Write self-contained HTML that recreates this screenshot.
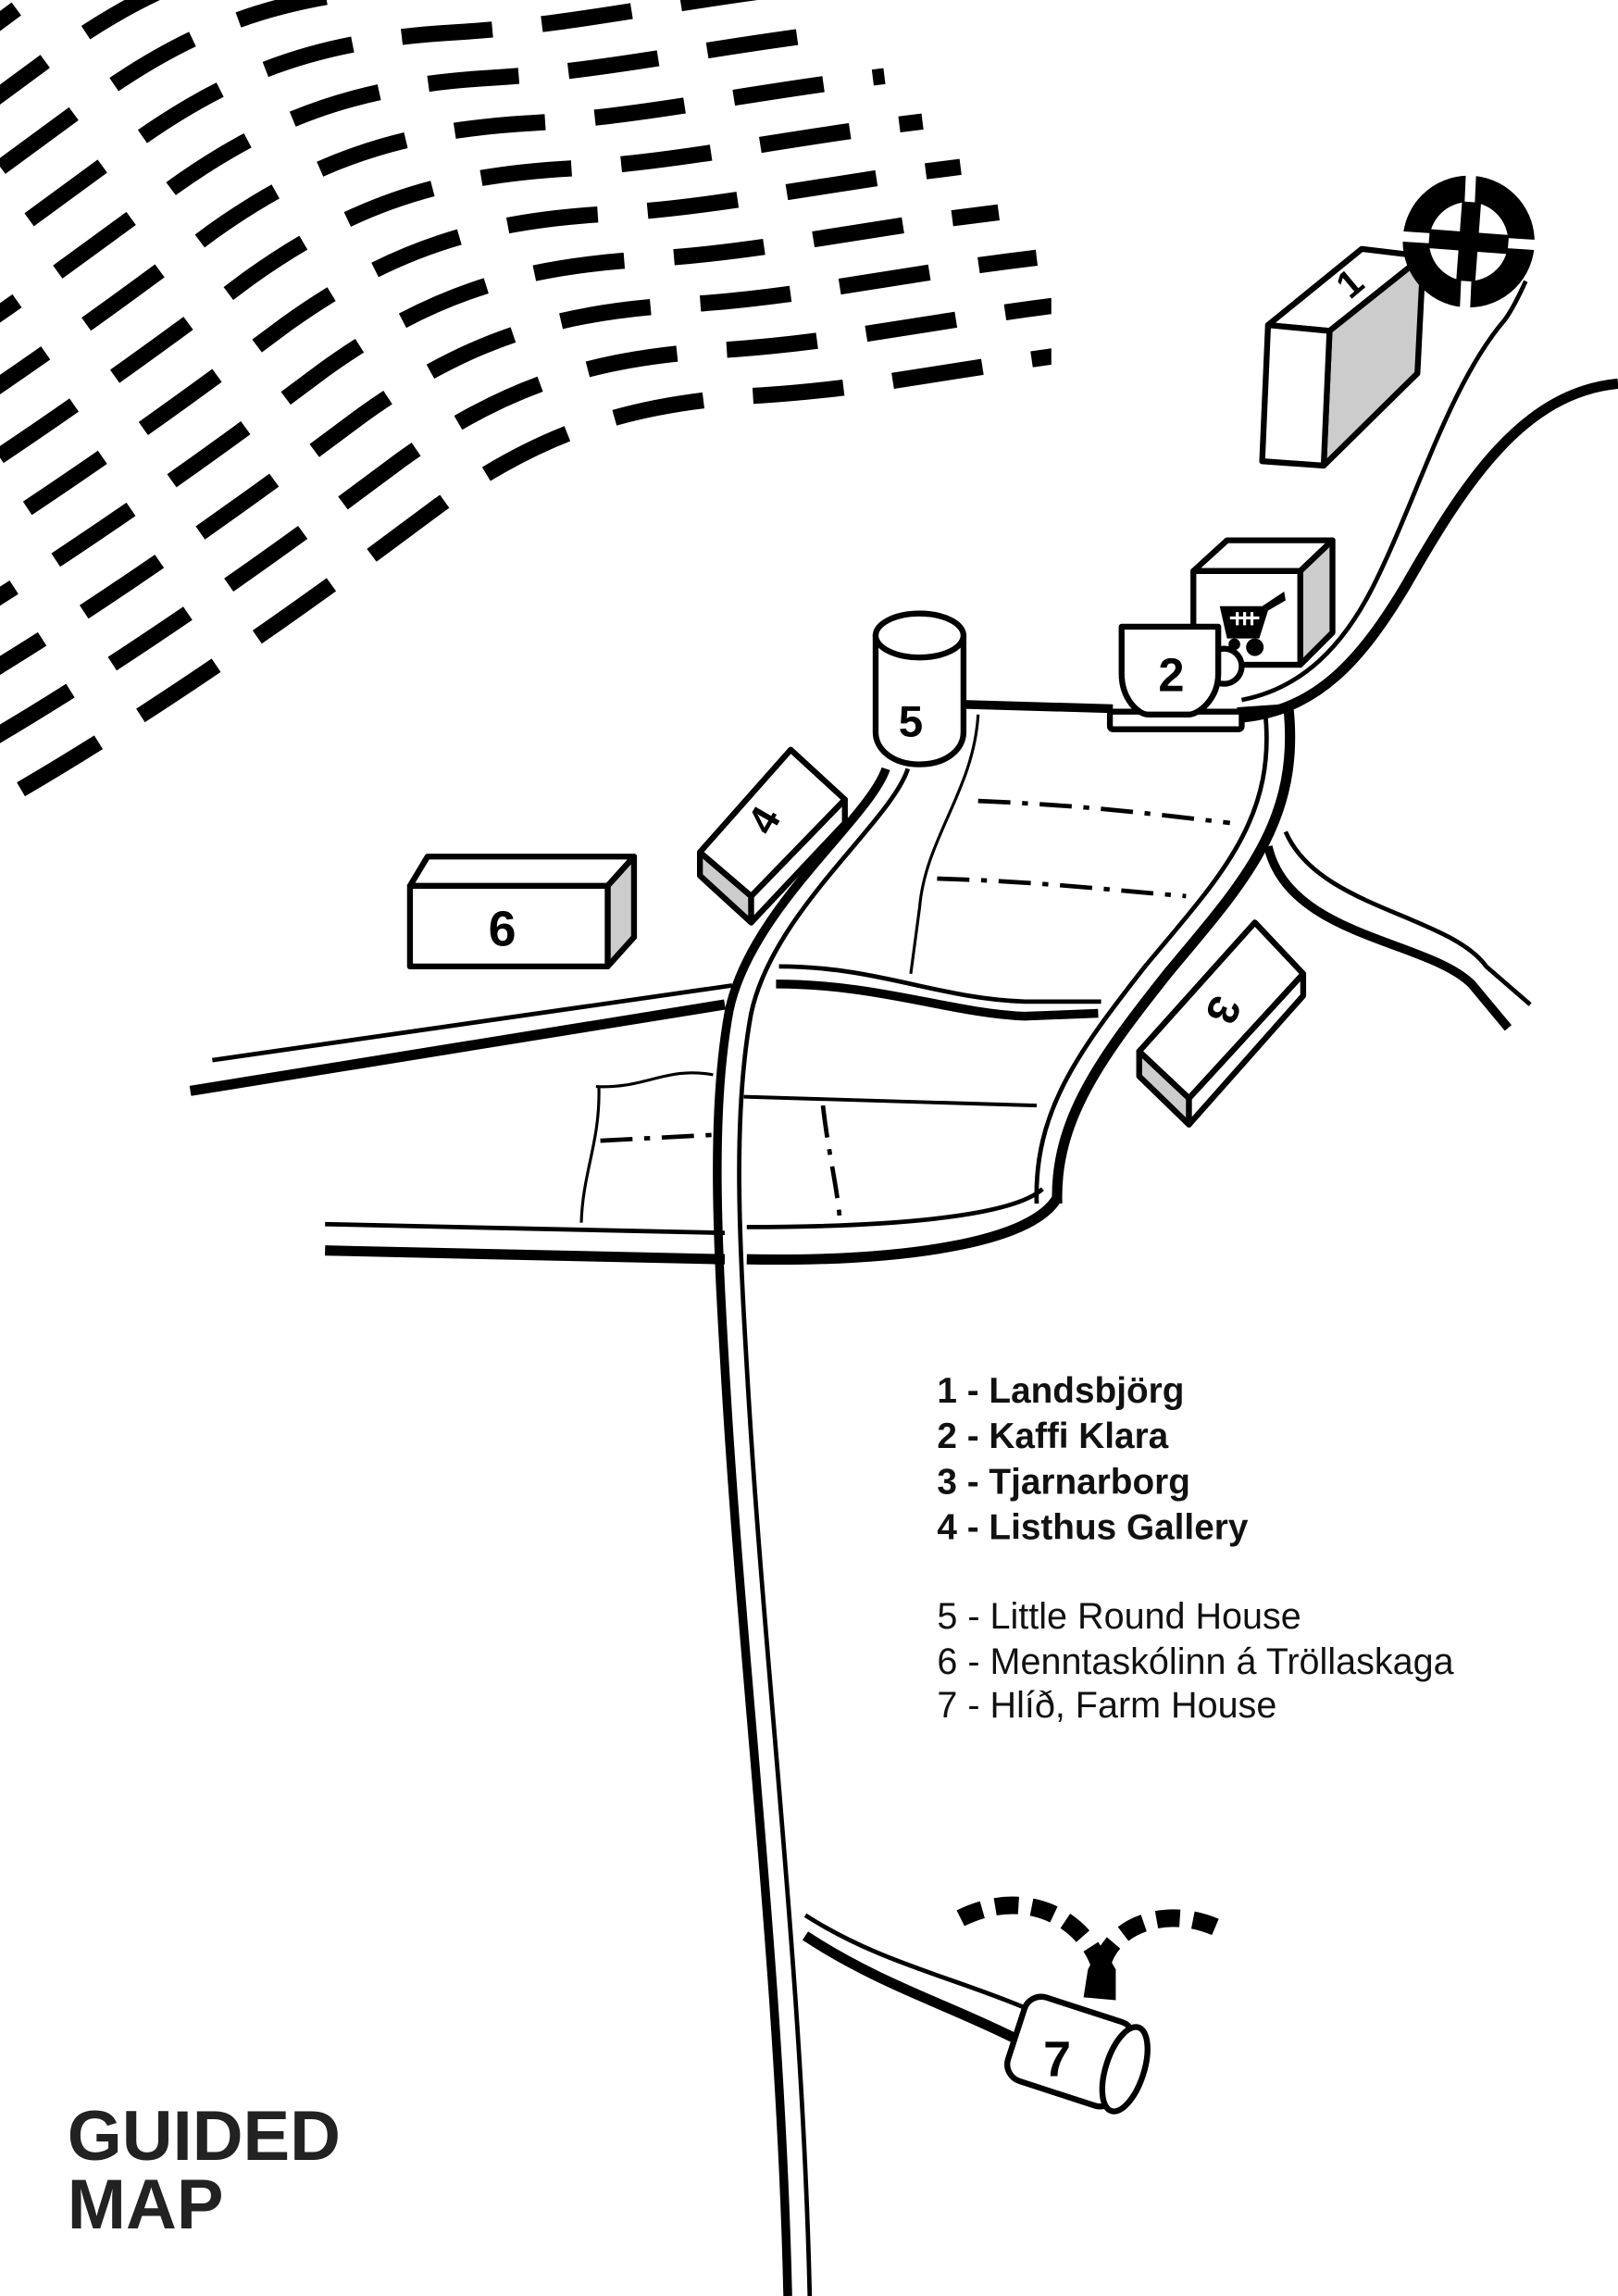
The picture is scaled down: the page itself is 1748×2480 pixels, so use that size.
<!DOCTYPE html>
<html><head><meta charset="utf-8"><style>
html,body{margin:0;padding:0;background:#fff;}
svg{display:block;}
text{font-family:"Liberation Sans",sans-serif;}
</style></head><body>
<svg width="1748" height="2480" viewBox="0 0 1105 1568" preserveAspectRatio="none" xmlns="http://www.w3.org/2000/svg">
<defs>
<clipPath id="fc"><rect x="0" y="0" width="718" height="600"/></clipPath>
<path id="fl" d="M-70,585 C60,520 200,420 300,345 C370,295 430,275 520,270 C600,265 660,250 760,238"/>
</defs>
<rect width="1105" height="1568" fill="#fff"/>
<g clip-path="url(#fc)" fill="none" stroke="#000" stroke-width="11" stroke-dasharray="62 34">
<use href="#fl" transform="translate(0,0)" stroke-dashoffset="0"/>
<use href="#fl" transform="translate(-26,-31)" stroke-dashoffset="-8"/>
<use href="#fl" transform="translate(-52,-62)" stroke-dashoffset="-16"/>
<use href="#fl" transform="translate(-78,-93)" stroke-dashoffset="-24"/>
<use href="#fl" transform="translate(-104,-124)" stroke-dashoffset="-32"/>
<use href="#fl" transform="translate(-130,-155)" stroke-dashoffset="-40"/>
<use href="#fl" transform="translate(-156,-186)" stroke-dashoffset="-48"/>
<use href="#fl" transform="translate(-182,-217)" stroke-dashoffset="-56"/>
<use href="#fl" transform="translate(-208,-248)" stroke-dashoffset="-64"/>
<use href="#fl" transform="translate(-234,-279)" stroke-dashoffset="-72"/>
<use href="#fl" transform="translate(-260,-310)" stroke-dashoffset="-80"/>
<use href="#fl" transform="translate(-286,-341)" stroke-dashoffset="-88"/>
<use href="#fl" transform="translate(-312,-372)" stroke-dashoffset="-96"/>
<use href="#fl" transform="translate(-338,-403)" stroke-dashoffset="-104"/>
<use href="#fl" transform="translate(-364,-434)" stroke-dashoffset="-112"/>
<use href="#fl" transform="translate(-390,-465)" stroke-dashoffset="-120"/>
<use href="#fl" transform="translate(-416,-496)" stroke-dashoffset="-128"/>
</g>

<g fill="none" stroke="#000" stroke-linecap="butt">
<path d="M605,525 C593,560 513,620 498,690 C485,760 490,850 496,950 C508,1150 533,1350 538,1568" stroke-width="6"/>
<path d="M620,525 C608,562 528,622 513,692 C500,762 505,850 511,950 C523,1150 548,1350 553,1568" stroke-width="3"/>
<path d="M656,481 L760,484" stroke-width="6"/>
<path d="M845,486 L875,484" stroke-width="6"/>
<path d="M848,478 C890,470 918,440 938,400 C968,340 990,262 1028,218 C1035,208 1040,196 1042,192" stroke-width="3"/>
<path d="M848,490 C900,485 930,450 960,400 C1000,330 1040,268 1105,262" stroke-width="7"/>
<path d="M864,486 C872,560 832,600 782,660 C735,720 706,760 708,822" stroke-width="3"/>
<path d="M880,484 C888,562 848,604 798,664 C752,722 720,765 722,822" stroke-width="7"/>
<path d="M510,838 C600,838 690,832 712,812" stroke-width="3"/>
<path d="M510,860 C620,862 705,848 722,818" stroke-width="7"/>
<path d="M222,836 L495,842" stroke-width="3"/>
<path d="M222,854 L495,860" stroke-width="7"/>
<path d="M145,724 L500,673" stroke-width="3"/>
<path d="M130,745 L495,686" stroke-width="7"/>
<path d="M532,660 C600,660 640,682 700,684 L752,684" stroke-width="3"/>
<path d="M530,672 C600,672 650,692 700,694 L750,692" stroke-width="6"/>
<path d="M878,568 C900,620 990,625 1015,660 L1045,686" stroke-width="3"/>
<path d="M866,578 C880,640 975,642 1005,672 L1030,702" stroke-width="6"/>
<path d="M550,1308 C600,1340 650,1350 702,1372" stroke-width="3"/>
<path d="M550,1322 C600,1355 650,1370 695,1393" stroke-width="7"/>
<path d="M668,488 C665,540 632,572 628,620 L622,665" stroke-width="2"/>
<path d="M508,749 L708,755" stroke-width="2.5"/>
<path d="M407,742 C440,744 455,728 487,734" stroke-width="2"/>
<path d="M409,742 C410,780 398,800 397,835" stroke-width="2"/>
<g stroke-width="3" stroke-dasharray="22 8 4 8">
<path d="M668,547 C740,550 780,555 840,562"/>
<path d="M640,600 C710,602 760,608 810,612"/>
<path d="M410,779 L488,775"/>
<path d="M562,755 C566,790 572,810 574,838"/>
</g>
</g>

<g stroke="#000" stroke-width="4" stroke-linejoin="round">
<polygon points="866,222 930,170 972,175 908,226" fill="#fff"/>
<polygon points="908,226 972,175 968,255 904,318" fill="#ccc"/>
<polygon points="866,222 908,226 904,318 862,315" fill="#fff"/>
</g>
<text x="0" y="0" font-size="26" font-weight="bold" transform="translate(922,205) rotate(-40)">1</text>
<g>
<circle cx="1003" cy="165" r="36" fill="none" stroke="#000" stroke-width="18"/>
<line x1="950" y1="161" x2="1060" y2="168" stroke="#fff" stroke-width="7"/>
<line x1="1005" y1="110" x2="1000" y2="222" stroke="#fff" stroke-width="7"/>
<line x1="976" y1="163" x2="1030" y2="167" stroke="#000" stroke-width="13"/>
<line x1="1005" y1="138" x2="1001" y2="192" stroke="#000" stroke-width="13"/>
</g>

<g stroke="#000" stroke-width="4" stroke-linejoin="round">
<polygon points="815,390 838,369 910,369 888,390" fill="#fff"/>
<polygon points="888,390 910,369 910,432 888,454" fill="#ccc"/>
<polygon points="815,390 888,390 888,454 815,454" fill="#fff"/>
</g>
<g>
<polygon points="833,414 862,414 877,404 878,410 866,417 860,436 838,436" fill="#000"/>
<circle cx="843" cy="440" r="4" fill="#000"/><circle cx="857" cy="442" r="6" fill="#000"/>
<path d="M840,422 H860 M845,418 V427 M850,418 V427 M855,418 V427" stroke="#fff" stroke-width="2"/>
</g>
<g stroke="#000" stroke-width="4" fill="#fff" stroke-linejoin="round">
<circle cx="836" cy="455" r="12"/>
<rect x="758" y="486" width="90" height="12" rx="2"/>
<path d="M766,428 H832 V460 C832,478 818,488 812,488 H784 C778,488 766,478 766,460 Z"/>
</g>
<text x="800" y="472" font-size="32" font-weight="bold" text-anchor="middle">2</text>

<g stroke="#000" stroke-width="4" fill="#fff">
<path d="M598,433 V500 C598,512 610,522 628,522 C646,522 658,512 658,500 V433"/>
<ellipse cx="628" cy="434" rx="30" ry="15"/>
</g>
<text x="622" y="503" font-size="30" font-weight="bold" text-anchor="middle">5</text>

<g stroke="#000" stroke-width="4" stroke-linejoin="round">
<polygon points="478,582 478,598 513,630 513,612" fill="#ccc"/>
<polygon points="577,546 577,562 513,630 513,612" fill="#fff"/>
<polygon points="540,512 577,546 513,612 478,582" fill="#fff"/>
</g>
<text x="0" y="0" font-size="28" font-weight="bold" text-anchor="middle" transform="translate(530,565) rotate(-60)">4</text>

<g stroke="#000" stroke-width="4" stroke-linejoin="round">
<polygon points="280,605 292,585 433,585 415,605" fill="#fff"/>
<polygon points="415,605 433,585 433,640 415,660" fill="#ccc"/>
<rect x="280" y="605" width="135" height="55" fill="#fff"/>
</g>
<text x="343" y="646" font-size="34" font-weight="bold" text-anchor="middle">6</text>

<g stroke="#000" stroke-width="4" stroke-linejoin="round">
<polygon points="778,718 778,735 812,768 812,750" fill="#ccc"/>
<polygon points="890,665 890,680 812,768 812,750" fill="#fff"/>
<polygon points="857,630 890,665 812,750 778,718" fill="#fff"/>
</g>
<text x="0" y="0" font-size="30" font-weight="bold" text-anchor="middle" transform="translate(826,686) rotate(112)">3</text>

<g fill="none" stroke="#000" stroke-width="12" stroke-dasharray="16 9">
<path d="M656,1310 C700,1288 742,1310 752,1345"/>
<path d="M830,1316 C792,1300 756,1318 752,1345"/>
</g>
<polygon points="740,1364 743,1345 752,1328 762,1345 762,1366" fill="#000"/>
<g transform="translate(734,1402) rotate(18)" stroke="#000" stroke-width="4" fill="#fff">
<rect x="-42" y="-30" width="78" height="60" rx="12"/>
<ellipse cx="36" cy="0" rx="13" ry="30"/>
</g>
<text x="722" y="1418" font-size="34" font-weight="bold" text-anchor="middle">7</text>

<g fill="#111">
<text x="640" y="958" font-weight="bold" font-size="24.5">1 - Landsbjörg</text>
<text x="640" y="989" font-weight="bold" font-size="24.5">2 - Kaffi Klara</text>
<text x="640" y="1020" font-weight="bold" font-size="24.5">3 - Tjarnarborg</text>
<text x="640" y="1051" font-weight="bold" font-size="24.5">4 - Listhus Gallery</text>
<text x="640" y="1112" font-size="25">5 - Little Round House</text>
<text x="640" y="1143" font-size="25">6 - Menntaskólinn á Tröllaskaga</text>
<text x="640" y="1173" font-size="25">7 - Hlíð, Farm House</text>
</g>
<g font-size="48" font-weight="bold" fill="#222">
<text x="46" y="1475">GUIDED</text>
<text x="46" y="1522">MAP</text>
</g>
</svg>
</body></html>
